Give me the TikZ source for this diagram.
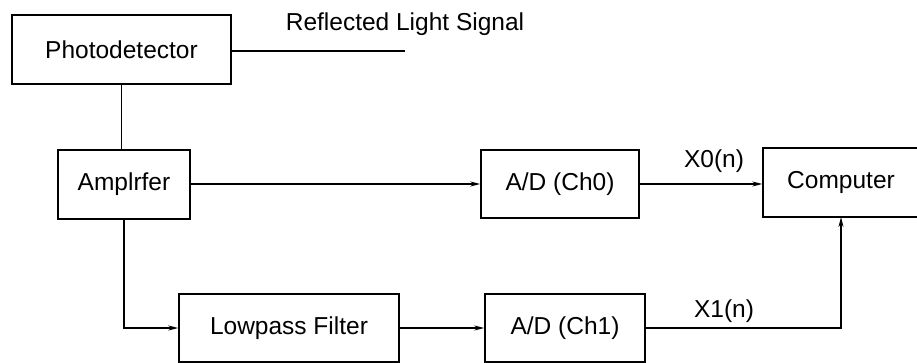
\documentclass[tikz,border=0pt]{standalone}
\usepackage{fontspec}
\setmainfont{Liberation Sans}
\usepackage{tikz}
\usetikzlibrary{arrows.meta}
\newcommand{\BlockFont}{\fontsize{24.5}{28}\selectfont}

\begin{document}
\begin{tikzpicture}[x=1pt,y=-1pt,
    blk/.style={draw=black,line width=1.5pt,inner sep=0pt,font=\BlockFont},
    sig/.style={line width=1.5pt},
    arr/.style={sig,-{Stealth[length=10pt,width=5pt]}}]
        \useasboundingbox (0,0) rectangle (917,363);
        \node[blk,minimum width=219pt,minimum height=69pt] (photo) at (121.5,49.5) {Photodetector};
        \node[blk,minimum width=132pt,minimum height=69pt] (ampl) at (124,184.5) {Amplrfer};
        \node[blk,minimum width=158pt,minimum height=68pt] (adc0) at (560,184) {A/D (Ch0)};
        \node[blk,minimum width=176pt,minimum height=69pt] (comp) at (851,182.5) {Computer\hspace*{20pt}};
        \node[blk,minimum width=220pt,minimum height=68pt] (lowpass) at (289,328) {Lowpass Filter};
        \node[blk,minimum width=160pt,minimum height=68pt] (adc1) at (565,328) {A/D (Ch1)};
        \coordinate (sigend) at (405,51);
        \coordinate (compin) at (841,217);
        \node[font=\BlockFont] (siglabel) at (405,24) {Reflected Light Signal};
        \node[font=\BlockFont] (x0) at (714,161) {X0(n)};
        \node[font=\BlockFont] (x1) at (724,311) {X1(n)};
        % light signal and photodetector
        \draw[sig] (photo.east |- sigend) -- (sigend);
        \draw[sig] (photo.south) -- (photo.south |- ampl.north);
        % channel 0
        \draw[arr] (ampl.east |- adc0.west) -- (adc0.west);
        \draw[arr] (adc0.east) -- (adc0.east -| comp.west);
        % channel 1
        \draw[arr] (ampl.south) -- (ampl.south |- lowpass.west) -- (lowpass.west);
        \draw[arr] (lowpass.east) -- (adc1.west);
        \draw[arr] (adc1.east) -- (adc1.east -| compin) -- (compin);
      \end{tikzpicture}
\end{document}
